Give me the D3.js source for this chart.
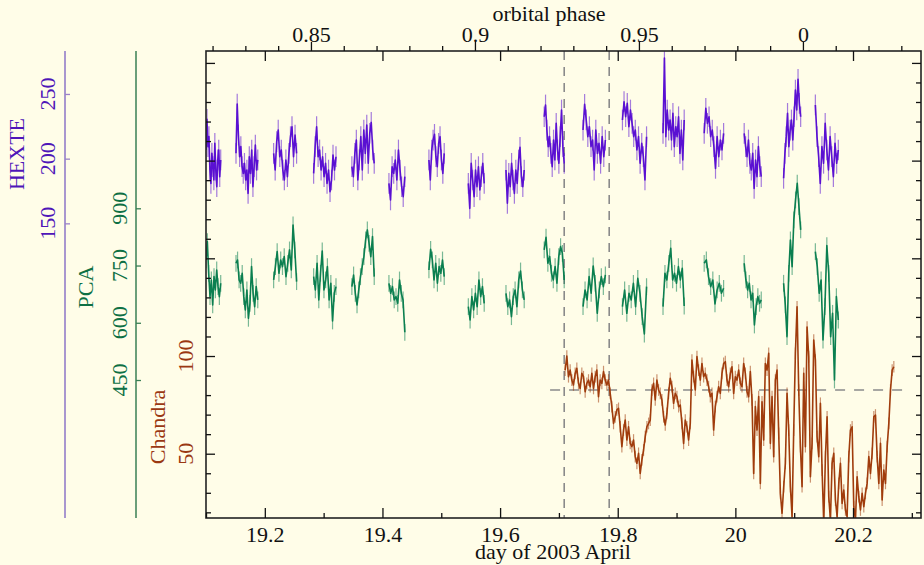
<!DOCTYPE html>
<html><head><meta charset="utf-8">
<script src="https://cdn.jsdelivr.net/npm/d3@7"></script>
<style>body{margin:0;background:#fffde8;} svg{display:block;} svg text{font-family:"Liberation Serif","Times New Roman",serif !important;}</style>
</head><body><svg id="c" width="924" height="565"></svg>
<script>
// ---------------- DATA ----------------
const segStart = [19.100,19.151,19.215,19.283,19.348,19.411,19.479,19.546,19.610,19.675,19.741,19.808,19.877,19.947,20.015,20.082,20.136];
const segEnd   = [19.125,19.188,19.254,19.321,19.386,19.438,19.505,19.573,19.641,19.709,19.779,19.849,19.913,19.980,20.044,20.111,20.175];

const hexteValues = [
 [206.7,230.4,209.3,217,191.2,180.9,204.1,193.8,183.5,211.8,191.2,178.3,199,206.7,186.1,199],
 [204.1,242.2,218.3,201.5,209.3,193.8,188.6,196.4,183.5,191.2,173.2,201.5,188.6,206.7,178.3,193.8,210.5,191.2,199],
 [204.1,191.2,213.1,222.1,201.5,206.7,191.2,183.5,199,186.1,204.1,217,224.7,201.5,218.3,204.1],
 [188.6,209.3,224.7,201.5,206.7,191.2,201.5,186.1,196.4,180.9,191.2,174.5,183.5,202.8,191.2,201.5],
 [193.8,186.1,204.1,214.4,183.5,199,217,191.2,222.1,204.1,226,196.4,219.6,228,206.7,196.4],
 [180.9,168.1,193.8,188.6,199,183.5,206.7,191.2,178.3,170.6,186.1],
 [199,183.5,206.7,214.4,218.8,201.5,193.8,211.8,217,199,188.6,204.1],
 [180.9,161.6,196.4,183.5,170.6,191.2,178.3,193.8,175.8,186.1,196.4,180.9],
 [191.2,165.5,188.6,178.3,196.4,183.5,173.2,191.2,180.9,199,208.7,186.1,178.3,191.2],
 [232.4,241.5,222.1,209.3,217,204.1,193.8,214.4,199,227.3,206.7,196.4,217,237.6,209.3,196.4],
 [222.1,242,229.9,217,224.7,209.3,214.4,191.2,222.1,204.1,211.8,196.4,217,201.5,214.4],
 [229.9,244,232.4,242.7,224.7,237.6,227.3,217,222.1,206.7,217,196.4,211.8,201.5,183.5,217],
 [219.6,277.8,217,237.6,222.1,229.9,214.4,235,209.3,224.7,217,232.4,204.1,222.1,199,229.9],
 [219.6,238.9,227.3,232.4,217,222.1,209.3,192.5,217,201.5,214.4,206.7,219.6],
 [219.6,209.3,201.5,214.4,196.4,191.2,204.1,177,199,186.1,209.3,193.8,186.1],
 [184.8,204.1,217,235,209.3,222.1,229.9,214.4,232.4,253,237.6,261.3,242.7,232.4],
 [241.5,217,201.5,180.9,209.3,196.4,227.3,206.7,191.2,217,201.5,186.1,211.8,196.4,206.7]
];

const pcaValues = [
 [764.6,812.7,729.7,668.5,712.2,646.7,721,686,738.4,694.7,668.5,703.5],
 [755.9,764.6,712.2,703.5,729.7,668.5,633.6,686,611.7,651,747.2,677.3,642.3,694.7,659.8],
 [712.2,747.2,786.5,729.7,764.6,747.2,773.4,720.9,755.9,790.9,738.4,856.4,790.9,707.8],
 [720.9,686,755.9,659.8,729.7,788.2,686,712.2,747.2,659.8,703.5,604.7,677.3,694.7],
 [694.7,725.3,677.3,646.7,686,720.9,747.2,773.4,817.1,843.3,808.3,773.4,825.8,720.9],
 [703.5,677.3,694.7,659.8,668.5,651,712.2,677.3,659.8,575],
 [738.4,792.6,764.6,712.2,755.9,703.5,747.2,729.7,764.6,721],
 [642.3,607.3,668.5,633.6,677.3,642.3,712.2,668.5,694.7,651],
 [677.3,642.3,659.8,616,668.5,686,642.3,712.2,735.8,686,659.8],
 [790.9,824.1,755.9,773.4,729.7,712.2,747.2,703.5,773.4,799.6,782.1,712.2],
 [642.3,686,659.8,720.9,677.3,748.9,703.5,624.8,686,720.9,694.7,725.3],
 [642.3,686,624.8,677.3,659.8,703.5,642.3,716.6,677.3,616,570.6,694.7],
 [642.3,729.7,712.2,755.9,795.2,712.2,729.7,703.5,747.2,712.2,742.8,644],
 [755.9,764.6,720.9,694.7,712.2,649.3,686,703.5,677.3,690.4],
 [755.9,712.2,686,703.5,659.8,677.3,594.2,642.3,668.5,651,659.8],
 [703.5,646.7,563.6,729.7,817.1,747.2,869.5,922,965.7,904.5,843.3],
 [786.5,747.2,677.3,712.2,554.9,642.3,802.2,729.7,563.6,624.8,450,668.5,607.3]
];

const chandraStart = 19.7106, chandraEnd = 20.2694;
const chandraValues = [
 92.8,100.0,89.4,92.8,87.7,85.2,91.1,93.7,86.0,83.4,91.1,89.4,81.7,86.0,87.7,84.3,91.1,83.4,89.4,92.8,
 79.2,87.7,86.0,92.0,87.7,85.2,87.7,80.9,74.1,65.5,68.9,72.4,73.2,63.8,53.6,62.1,67.2,57.0,63.8,55.3,
 53.6,57.0,48.5,45.1,50.2,39.9,46.8,51.9,58.7,63.8,65.5,67.2,82.6,86.0,77.5,87.7,82.6,80.9,77.5,68.9,
 64.7,70.6,80.9,88.6,84.3,75.8,80.9,79.2,74.1,74.9,65.5,55.3,67.2,63.8,57.0,65.5,97.9,89.4,82.6,99.7,
 92.8,87.7,96.2,89.4,91.1,87.7,84.3,79.2,80.9,62.1,74.1,79.2,84.3,80.9,91.1,96.2,97.1,87.7,84.3,91.1,
 94.5,80.9,89.4,87.7,92.8,86.0,84.3,96.2,91.1,81.7,79.2,92.0,77.5,39.9,74.1,62.1,79.2,34.8,76.6,57.0,
 96.2,92.8,101.4,55.3,79.2,48.5,87.7,92.8,60.4,29.7,19.5,33.1,45.1,80.9,62.1,33.1,17.8,62.1,101.4,125.2,
 82.6,53.6,33.1,91.1,53.6,114.8,99.7,38.2,55.3,108.2,97.9,58.7,48.5,75.8,41.6,14.4,48.5,68.9,28.0,16.1,
 45.1,50.2,26.3,17.8,34.8,45.1,24.6,31.4,21.2,17.8,48.5,62.1,63.8,22.9,16.1,38.2,28.0,21.2,29.7,22.9,
 29.7,34.8,48.5,39.9,50.2,68.9,69.8,48.5,34.8,55.3,26.3,41.6,34.8,53.6,65.5,82.6,92.8,94.5
];

// typical 1-sigma error per bin for each instrument
const hexteErr = 8, pcaErr = 22, chandraErr = 3;

const chandraRef = 82.6;               // horizontal dashed reference level
const refLineDays = [19.685, 20.297];
const markerDays = [19.709, 19.7855];  // vertical dashed lines

const dayDomain = [19.1, 20.3156];
const dayMajor = [19.2, 19.4, 19.6, 19.8, 20.0, 20.2];
const dayMinor = [19.1, 19.3, 19.5, 19.7, 19.9, 20.1, 20.3];
const dayLabels = ["19.2","19.4","19.6","19.8","20","20.2"];

const phaseDomain = [0.818, 1.036];
const phaseMajor = [0.85, 0.9, 0.95, 1.0];
const phaseLabels = ["0.85","0.9","0.95","0"];
const phaseMinor = [0.82,0.83,0.84,0.86,0.87,0.88,0.89,0.91,0.92,0.93,0.94,0.96,0.97,0.98,0.99,1.01,1.02,1.03];

const hexteDomain = [-77.7, 283.2], hexteTicks = [150, 200, 250];
const pcaDomain = [88.4, 1312.2], pcaTicks = [450, 600, 750, 900];
const chandraDomain = [17.1, 256.1], chandraLabelTicks = [50, 100];
const chandraFrameTicks = d3.range(20, 251, 10);

// ---------------- LAYOUT ----------------
const L = 206, R = 921, T = 51, B = 518;
const FS = "22px", FF = "Liberation Serif";
const cHex = "#5a10d2", cPca = "#0b7f50", cCha = "#a03c0c";
const tHex = "#4e16b8", tPca = "#0e7044", tCha = "#9a3812";

const svg = d3.select("#c");
svg.append("rect").attr("width",924).attr("height",565).attr("fill","#fffde8");

const x = d3.scaleLinear().domain(dayDomain).range([L,R]);
const xp = d3.scaleLinear().domain(phaseDomain).range([L,R]);
const yH = d3.scaleLinear().domain(hexteDomain).range([B,T]);
const yP = d3.scaleLinear().domain(pcaDomain).range([B,T]);
const yC = d3.scaleLinear().domain(chandraDomain).range([B,T]);

svg.append("clipPath").attr("id","clip").append("rect")
  .attr("x",L).attr("y",T).attr("width",R-L).attr("height",B-T);

const plot = svg.append("g").attr("clip-path","url(#clip)");

// dashed markers
plot.selectAll(".vm").data(markerDays).enter().append("line")
  .attr("x1",d=>x(d)).attr("x2",d=>x(d)).attr("y1",T).attr("y2",B)
  .attr("stroke","#8a8a8a").attr("stroke-width",1.6).attr("stroke-dasharray","9,7");
plot.append("line").attr("x1",x(refLineDays[0])).attr("x2",x(refLineDays[1]))
  .attr("y1",yC(chandraRef)).attr("y2",yC(chandraRef))
  .attr("stroke","#8a8a8a").attr("stroke-width",1.6).attr("stroke-dasharray","10,9");

function segPoints(vals, t0, t1){
  const n = vals.length;
  return vals.map((v,j)=>({t: t0 + j*(t1-t0)/(n-1), v}));
}
function drawSeries(pts, ys, color, err){
  plot.append("g").selectAll("line").data(pts).enter().append("line")
    .attr("x1",d=>x(d.t)).attr("x2",d=>x(d.t))
    .attr("y1",d=>ys(d.v-err)).attr("y2",d=>ys(d.v+err))
    .attr("stroke",color).attr("stroke-opacity",0.55).attr("stroke-width",1.2);
  plot.append("path").attr("d",d3.line().x(d=>x(d.t)).y(d=>ys(d.v))(pts))
    .attr("fill","none").attr("stroke",color).attr("stroke-width",1.6).attr("stroke-linejoin","round");
}

hexteValues.forEach((vals,i)=>drawSeries(segPoints(vals,segStart[i],segEnd[i]), yH, cHex, hexteErr));
pcaValues.forEach((vals,i)=>drawSeries(segPoints(vals,segStart[i],segEnd[i]), yP, cPca, pcaErr));
drawSeries(segPoints(chandraValues,chandraStart,chandraEnd), yC, cCha, chandraErr);

// frame
svg.append("rect").attr("x",L).attr("y",T).attr("width",R-L).attr("height",B-T)
  .attr("fill","none").attr("stroke","#222").attr("stroke-width",1.6);

function styleAxis(g, color){
  g.attr("font-family",FF).attr("font-size",FS);
  g.select(".domain").remove();
  g.selectAll(".tick line").attr("stroke",color).attr("stroke-width",1.3);
  g.selectAll("text").style("font-family",FF).style("font-size",FS).attr("fill",color);
}

// bottom axis (ticks inward, labels below)
const gb = svg.append("g").attr("transform",`translate(0,${B})`)
  .call(d3.axisBottom(x).tickValues(dayMajor).tickSizeInner(-10).tickSizeOuter(0).tickPadding(8)
    .tickFormat((d,i)=>dayLabels[i]));
styleAxis(gb,"#111");
const gbm = svg.append("g").attr("transform",`translate(0,${B})`)
  .call(d3.axisBottom(x).tickValues(dayMinor).tickSizeInner(-5).tickSizeOuter(0).tickFormat(""));
styleAxis(gbm,"#111");
// top day ticks inward
const gtd = svg.append("g").attr("transform",`translate(0,${T})`)
  .call(d3.axisTop(x).tickValues(dayMajor).tickSizeInner(-10).tickSizeOuter(0).tickFormat(""));
styleAxis(gtd,"#111");
// top phase axis (outward)
const gt = svg.append("g").attr("transform",`translate(0,${T})`)
  .call(d3.axisTop(xp).tickValues(phaseMajor).tickSizeInner(9).tickSizeOuter(0).tickPadding(0)
    .tickFormat((d,i)=>phaseLabels[i]));
styleAxis(gt,"#111");
const gtm = svg.append("g").attr("transform",`translate(0,${T})`)
  .call(d3.axisTop(xp).tickValues(phaseMinor).tickSizeInner(5).tickSizeOuter(0).tickFormat(""));
styleAxis(gtm,"#111");

// left/right frame ticks (Chandra scale)
[[L, d3.axisRight],[R, d3.axisLeft]].forEach(([px, ax])=>{
  const g1 = svg.append("g").attr("transform",`translate(${px},0)`)
    .call(ax(yC).tickValues(chandraFrameTicks.filter(v=>v%50!==0)).tickSizeInner(5).tickSizeOuter(0).tickFormat(""));
  styleAxis(g1,"#111");
  const g2 = svg.append("g").attr("transform",`translate(${px},0)`)
    .call(ax(yC).tickValues(chandraFrameTicks.filter(v=>v%50===0)).tickSizeInner(9).tickSizeOuter(0).tickFormat(""));
  styleAxis(g2,"#111");
});

function txt(tr, s, color){
  return svg.append("text").attr("transform",tr).attr("text-anchor","middle")
    .style("font-family",FF).style("font-size",FS).attr("fill",color).text(s);
}
// axis titles (top/bottom)
txt("translate(549,21)","orbital phase","#111");
txt("translate(553,559)","day of 2003 April","#111");

// HEXTE axis
svg.append("line").attr("x1",65).attr("x2",65).attr("y1",T).attr("y2",B)
  .attr("stroke","#a08ccc").attr("stroke-width",1.8);
const gh = svg.append("g").attr("transform","translate(65,0)")
  .call(d3.axisRight(yH).tickValues(hexteTicks).tickSizeInner(5).tickSizeOuter(0).tickFormat(""));
styleAxis(gh,"#9a82c8");
hexteTicks.forEach(d=>txt(`translate(55,${yH(d)}) rotate(-90)`, d, tHex));
txt("translate(24,154) rotate(-90)","HEXTE",tHex);

// PCA axis
svg.append("line").attr("x1",136).attr("x2",136).attr("y1",T).attr("y2",B)
  .attr("stroke","#3a7f55").attr("stroke-width",1.5);
const gp = svg.append("g").attr("transform","translate(136,0)")
  .call(d3.axisRight(yP).tickValues(pcaTicks).tickSizeInner(5).tickSizeOuter(0).tickFormat(""));
styleAxis(gp,"#3a7f55");
pcaTicks.forEach(d=>txt(`translate(127,${yP(d)}) rotate(-90)`, d, tPca));
txt("translate(93,287) rotate(-90)","PCA",tPca);

// Chandra labels
chandraLabelTicks.forEach(d=>txt(`translate(193,${yC(d)}) rotate(-90)`, d, tCha));
txt("translate(165,427) rotate(-90)","Chandra",tCha);
</script></body></html>
